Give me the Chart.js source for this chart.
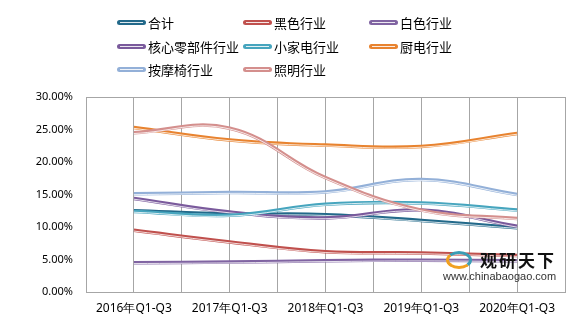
<!DOCTYPE html>
<html>
<head>
<meta charset="utf-8">
<script src="https://cdn.jsdelivr.net/npm/chart.js@4/dist/chart.umd.min.js"></script>
<style>
  html, body { margin: 0; padding: 0; background: #fff; }
  #wrap { position: relative; width: 585px; height: 324px; }
  #legend { position: absolute; left: 117px; top: 13px; width: 460px; font: 13px "Noto Sans CJK SC", sans-serif; color: #000; }
  .item { position: absolute; height: 20px; line-height: 20px; white-space: nowrap; }
  .swatch { position: absolute; left: 0; top: 7px; width: 29px; height: 5px; border-radius: 3px; }
  .swatch i { position: absolute; left: 3px; right: 3px; top: 2px; height: 1px; background: rgba(255,255,255,0.85); }
  .item span { position: absolute; left: 31px; top: 0; }
  #mark { position: absolute; left: 443px; top: 218px; width: 120px; height: 66px; }
  #mark .cn { position: absolute; left: 37px; top: 30px; font: bold 17px "Noto Sans CJK SC", sans-serif; color: #111; letter-spacing: 2px; line-height: 24px; }
  #mark .url { position: absolute; left: 0; top: 52px; font: 11px "Liberation Sans", sans-serif; color: #333; line-height: 13px; }
  #mark .logo { position: absolute; left: 3px; top: 33px; width: 20px; height: 12px; border-radius: 50%; border: 3px solid #3a9db5; border-bottom-color: #f0a020; border-left-color: #f0a020; }
</style>
</head>
<body>
<div id="wrap">
  <canvas id="myChart" width="585" height="324"></canvas>
  <div id="legend"></div>
  <div id="mark"><div class="logo"></div><div class="cn">观研天下</div><div class="url">www.chinabaogao.com</div></div>
</div>
<script>
const categories = ['2016年Q1-Q3', '2017年Q1-Q3', '2018年Q1-Q3', '2019年Q1-Q3', '2020年Q1-Q3'];
const seriesNames = ['合计', '黑色行业', '白色行业', '核心零部件行业', '小家电行业', '厨电行业', '按摩椅行业', '照明行业'];
const seriesColors = ['#22698A', '#C0504D', '#8064A2', '#7A5A9C', '#46A5BE', '#E8832F', '#93B0D8', '#D48F8D'];

// values in %
const heji       = [12.5, 12.0, 11.9, 11.0, 9.9];
const heise      = [9.5, 7.7, 6.2, 6.0, 5.6];
const baise      = [4.5, 4.6, 4.8, 4.9, 4.8];
const hexin      = [14.4, 12.3, 11.4, 12.6, 10.1];
const xiaojiadian = [12.4, 11.8, 13.5, 13.7, 12.6];
const chudian    = [25.3, 23.4, 22.6, 22.4, 24.4];
const anmoyi     = [15.1, 15.3, 15.4, 17.3, 15.0];
const zhaoming   = [24.5, 25.2, 17.6, 12.6, 11.3];

const yTicks = [0, 5, 10, 15, 20, 25, 30];

const allSeries = [heji, heise, baise, hexin, xiaojiadian, chudian, anmoyi, zhaoming];

// legend (3 columns)
const legendEl = document.getElementById('legend');
seriesNames.forEach((name, i) => {
  const div = document.createElement('div');
  div.className = 'item';
  div.style.left = (i % 3) * 126 + 'px';
  div.style.top = Math.floor(i / 3) * 23.5 + 'px';
  div.innerHTML = '<div class="swatch" style="background:' + seriesColors[i] + '"><i></i></div><span>' + name + '</span>';
  legendEl.appendChild(div);
});

// white highlight inside each line, like the original style
const highlight = {
  id: 'highlight',
  afterDatasetDraw(chart, args) {
    const pts = args.meta.data;
    const ctx = chart.ctx;
    ctx.save();
    ctx.translate(0, 0.8);
    ctx.strokeStyle = 'rgba(255,255,255,0.8)';
    ctx.lineWidth = 1;
    ctx.beginPath();
    ctx.moveTo(pts[0].x, pts[0].y);
    for (let k = 1; k < pts.length; k++) {
      const p = pts[k - 1], t = pts[k];
      ctx.bezierCurveTo(p.cp2x, p.cp2y, t.cp1x, t.cp1y, t.x, t.y);
    }
    ctx.stroke();
    ctx.restore();
  }
};

const frame = {
  id: 'frame',
  beforeDatasetsDraw(chart) {
    const a = chart.chartArea, ctx = chart.ctx;
    ctx.save();
    ctx.strokeStyle = '#A6A6A6';
    ctx.lineWidth = 1;
    ctx.strokeRect(Math.round(a.left) + 0.5, Math.round(a.top) + 0.5, Math.round(a.right - a.left), Math.round(a.bottom - a.top));
    ctx.restore();
  }
};

const ctx = document.getElementById('myChart').getContext('2d');
new Chart(ctx, {
  type: 'line',
  data: {
    datasets: allSeries.map((vals, i) => ({
      label: seriesNames[i],
      data: vals.map((v, k) => ({ x: k, y: v })),
      borderColor: seriesColors[i],
      borderWidth: 3.5,
      pointRadius: 0,
      tension: 0.4,
      fill: false,
      order: seriesNames.length - i
    }))
  },
  options: {
    responsive: false,
    animation: false,
    layout: { padding: { top: 97, right: 20, left: 0, bottom: 0 } },
    plugins: { legend: { display: false }, tooltip: { enabled: false } },
    scales: {
      x: {
        type: 'linear',
        min: -0.5,
        max: 4.5,
        afterFit: s => { s.height = 32; },
        afterBuildTicks: s => {
          s.ticks = [];
          for (let v = -0.5; v <= 4.5; v += 0.5) s.ticks.push({ value: v });
        },
        ticks: {
          autoSkip: false,
          maxRotation: 0,
          padding: 9,
          color: '#000',
          font: { family: 'Noto Sans', size: 12 },
          callback: v => Number.isInteger(v) ? categories[v] : ''
        },
        grid: { color: '#A6A6A6', drawTicks: false },
        border: { display: false }
      },
      y: {
        min: 0,
        max: 30,
        afterFit: s => { s.width = 86; },
        afterBuildTicks: s => { s.ticks = yTicks.map(v => ({ value: v })); },
        ticks: {
          padding: 5,
          color: '#000',
          font: { family: 'Noto Sans', size: 11 },
          callback: v => v.toFixed(2) + '%'
        },
        grid: { display: false },
        border: { display: false }
      }
    }
  },
  plugins: [frame, highlight]
});
</script>
</body>
</html>
